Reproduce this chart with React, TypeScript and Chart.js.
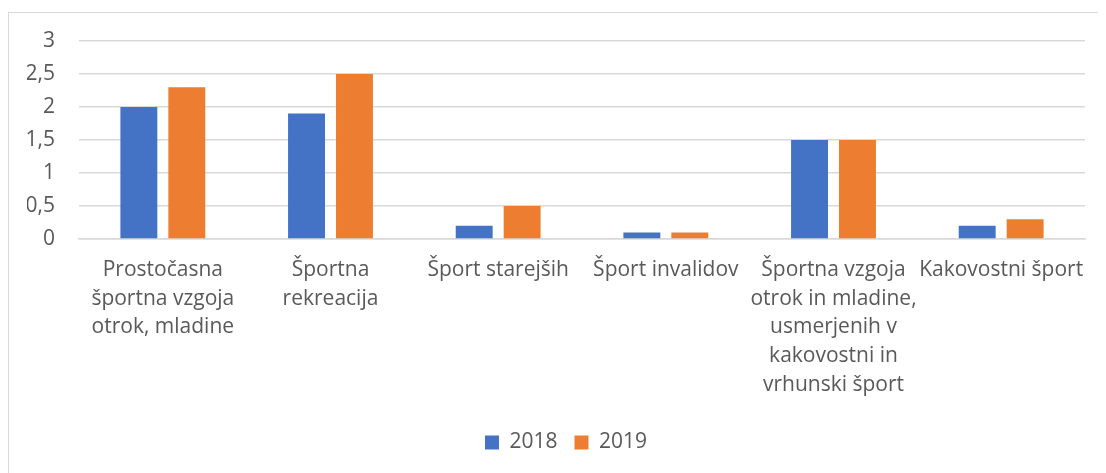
import React, { useEffect, useRef } from "react";
import { Chart, registerables } from "chart.js";

Chart.register(...registerables);

const categories: (string | string[])[] = [
  ["Prostočasna", "športna vzgoja", "otrok, mladine"],
  ["Športna", "rekreacija"],
  "Šport starejših",
  "Šport invalidov",
  ["Športna vzgoja", "otrok in mladine,", "usmerjenih v", "kakovostni in", "vrhunski šport"],
  "Kakovostni šport",
];
const series2018 = [2.0, 1.9, 0.2, 0.1, 1.5, 0.2];
const series2019 = [2.3, 2.5, 0.5, 0.1, 1.5, 0.3];
const seriesNames = ["2018", "2019"];
const yMin = 0;
const yMax = 3;
const yStep = 0.5;

const FONT = "'Open Sans', sans-serif";
const TEXT = "#595959";
const GRID = "#d9d9d9";

export default function App() {
  const ref = useRef<HTMLCanvasElement | null>(null);

  useEffect(() => {
    document.documentElement.style.overflow = "hidden";
    document.body.style.overflow = "hidden";
    const canvas = ref.current;
    if (!canvas) return;
    const chart = new Chart(canvas, {
      type: "bar",
      data: {
        labels: categories,
        datasets: [
          {
            label: seriesNames[0],
            data: series2018,
            backgroundColor: "#4472C4",
            categoryPercentage: 0.572,
            barPercentage: 0.77,
            yAxisID: "y",
          },
          {
            label: seriesNames[1],
            data: series2019,
            backgroundColor: "#ED7D31",
            categoryPercentage: 0.572,
            barPercentage: 0.77,
            yAxisID: "y",
          },
        ],
      },
      options: {
        responsive: false,
        animation: false,
        layout: { autoPadding: false, padding: { left: 18, right: 1, top: 28, bottom: 10 } },
        plugins: {
          legend: {
            position: "bottom",
            labels: {
              boxWidth: 14,
              boxHeight: 14,
              padding: 17,
              color: TEXT,
              font: { family: FONT, size: 21 },
            },
          },
          tooltip: { enabled: false },
        },
        scales: {
          x: {
            grid: { display: false, drawTicks: false },
            border: { display: true, color: GRID, width: 1.5 },
            ticks: {
              color: TEXT,
              font: { family: FONT, size: 21, lineHeight: 1.362 },
              padding: 17,
              autoSkip: false,
              maxRotation: 0,
              minRotation: 0,
            },
            afterFit: (scale: any) => {
              scale.height = 176;
            },
          },
          y: {
            min: yMin,
            max: yMax,
            grid: { color: GRID, lineWidth: 1.5, drawTicks: false },
            border: { display: false },
            ticks: {
              stepSize: yStep,
              color: TEXT,
              padding: 24,
              font: { family: FONT, size: 21 },
              callback: (v: any) => String(Number(v)).replace(".", ","),
            },
            afterFit: (scale: any) => {
              scale.width = 52;
              scale.paddingTop = 0;
              scale.paddingBottom = 0;
            },
          },
          yR: {
            type: "linear",
            position: "right",
            display: true,
            grid: { display: false, drawTicks: false },
            border: { display: false },
            ticks: { display: false },
            afterFit: (scale: any) => {
              scale.width = 20;
              scale.paddingTop = 0;
              scale.paddingBottom = 0;
            },
          },
        },
      },
    });
    return () => chart.destroy();
  }, []);

  return (
    <div style={{ paddingTop: 4 }}>
      <div
        style={{
          borderTop: "1px solid #d9d9d9",
          borderLeft: "1px solid #d9d9d9",
          width: 1097,
          height: 460,
          background: "#fff",
        }}
      >
        <canvas ref={ref} width={1097} height={460} style={{ display: "block" }} />
      </div>
    </div>
  );
}
